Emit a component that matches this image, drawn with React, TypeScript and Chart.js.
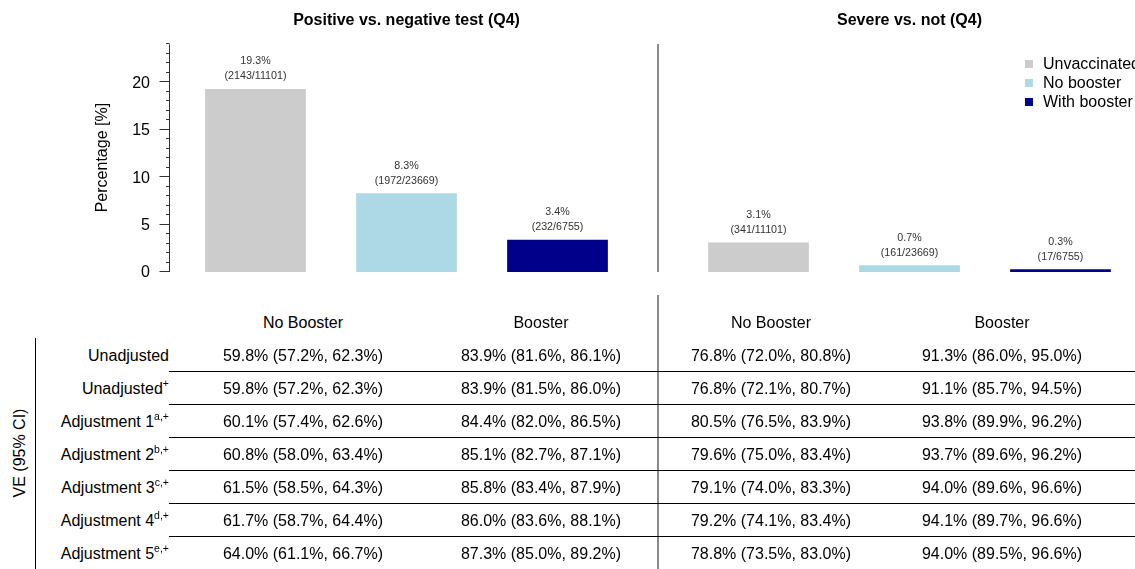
import React, { useEffect, useRef } from "react";
import { Chart, registerables } from "chart.js";

Chart.register(...registerables);

const FONT = "'Liberation Sans', Arial, Helvetica, sans-serif";

// ---- Data ----
const groups = ["Unvaccinated", "No booster", "With booster"];
const groupColors = ["#cccccc", "#add8e6", "#00008b"];
const groupTotals = [11101, 23669, 6755];

const testTitle = "Positive vs. negative test (Q4)";
const testPercent = [19.3, 8.3, 3.4];
const testCases = [2143, 1972, 232];

const severeTitle = "Severe vs. not (Q4)";
const severePercent = [3.1, 0.7, 0.3];
const severeCases = [341, 161, 17];

const yAxisTitle = "Percentage [%]";
const yMajorTicks = [0, 5, 10, 15, 20];
const yMinorTicks = [0, 1, 2, 3, 4, 5, 6, 7, 8, 9, 10, 11, 12, 13, 14, 15, 16, 17, 18, 19, 20, 21, 22, 23, 24];
const yMax = 24.125;

const tableHeaders = ["No Booster", "Booster", "No Booster", "Booster"];
const rowLabels = ["Unadjusted", "Unadjusted", "Adjustment 1", "Adjustment 2", "Adjustment 3", "Adjustment 4", "Adjustment 5"];
const rowSuperscripts = ["", "+", "a,+", "b,+", "c,+", "d,+", "e,+"];
const veTestNoBooster = [
  "59.8% (57.2%, 62.3%)", "59.8% (57.2%, 62.3%)", "60.1% (57.4%, 62.6%)", "60.8% (58.0%, 63.4%)",
  "61.5% (58.5%, 64.3%)", "61.7% (58.7%, 64.4%)", "64.0% (61.1%, 66.7%)",
];
const veTestBooster = [
  "83.9% (81.6%, 86.1%)", "83.9% (81.5%, 86.0%)", "84.4% (82.0%, 86.5%)", "85.1% (82.7%, 87.1%)",
  "85.8% (83.4%, 87.9%)", "86.0% (83.6%, 88.1%)", "87.3% (85.0%, 89.2%)",
];
const veSevereNoBooster = [
  "76.8% (72.0%, 80.8%)", "76.8% (72.1%, 80.7%)", "80.5% (76.5%, 83.9%)", "79.6% (75.0%, 83.4%)",
  "79.1% (74.0%, 83.3%)", "79.2% (74.1%, 83.4%)", "78.8% (73.5%, 83.0%)",
];
const veSevereBooster = [
  "91.3% (86.0%, 95.0%)", "91.1% (85.7%, 94.5%)", "93.8% (89.9%, 96.2%)", "93.7% (89.6%, 96.2%)",
  "94.0% (89.6%, 96.6%)", "94.1% (89.7%, 96.6%)", "94.0% (89.5%, 96.6%)",
];
const veAxisLabel = "VE (95% CI)";

// ---- Layout constants ----
const colCenters = [303, 541, 771, 1002];
const rowTop0 = 339;
const rowH = 33;

type PanelProps = {
  title: string;
  values: number[];
  cases: number[];
  withAxis: boolean;
  withLegend: boolean;
  left: number;
  width: number;
  padLeft: number;
  padRight: number;
};

function BarPanel(p: PanelProps) {
  const ref = useRef<HTMLCanvasElement>(null);
  useEffect(() => {
    const labelsPlugin = {
      id: "barLabels",
      afterDatasetsDraw(chart: any) {
        const ctx = chart.ctx;
        const meta = chart.getDatasetMeta(0);
        ctx.save();
        ctx.font = `10.7px ${FONT}`;
        ctx.fillStyle = "#333";
        ctx.textAlign = "center";
        ctx.textBaseline = "middle";
        meta.data.forEach((bar: any, i: number) => {
          ctx.fillText(`${p.values[i].toFixed(1)}%`, bar.x, bar.y - 27.5);
          ctx.fillText(`(${p.cases[i]}/${groupTotals[i]})`, bar.x, bar.y - 12.5);
        });
        ctx.restore();
      },
    };
    const axisPlugin = {
      id: "baseAxis",
      afterDraw(chart: any) {
        if (!p.withAxis) return;
        const ctx = chart.ctx;
        const y = chart.scales.y;
        const ax = chart.chartArea.left - 10.5;
        ctx.save();
        ctx.strokeStyle = "#333";
        ctx.lineWidth = 1;
        ctx.beginPath();
        ctx.moveTo(ax, y.getPixelForValue(yMinorTicks[0]));
        ctx.lineTo(ax, y.getPixelForValue(yMinorTicks[yMinorTicks.length - 1]));
        yMinorTicks.forEach((v) => {
          const py = Math.round(y.getPixelForValue(v)) - 0.5;
          ctx.moveTo(ax, py);
          ctx.lineTo(ax - 3.5, py);
        });
        yMajorTicks.forEach((v) => {
          const py = Math.round(y.getPixelForValue(v)) - 0.5;
          ctx.moveTo(ax, py);
          ctx.lineTo(ax - 10, py);
        });
        ctx.stroke();
        ctx.fillStyle = "#000";
        ctx.font = `16px ${FONT}`;
        ctx.textAlign = "right";
        ctx.textBaseline = "middle";
        yMajorTicks.forEach((v) => ctx.fillText(String(v), ax - 19.5, y.getPixelForValue(v) + 1));
        ctx.translate(103, (chart.chartArea.top + chart.chartArea.bottom) / 2);
        ctx.rotate(-Math.PI / 2);
        ctx.textAlign = "center";
        ctx.fillText(yAxisTitle, 0, 0);
        ctx.restore();
      },
    };
    const legendPlugin = {
      id: "cornerLegend",
      afterDraw(chart: any) {
        if (!p.withLegend) return;
        const ctx = chart.ctx;
        ctx.save();
        ctx.font = `16px ${FONT}`;
        ctx.textAlign = "left";
        ctx.textBaseline = "middle";
        groups.forEach((g, i) => {
          const cy = 64 + 19 * i;
          ctx.fillStyle = groupColors[i];
          ctx.fillRect(367, cy - 4, 8, 8);
          ctx.fillStyle = "#000";
          ctx.fillText(g, 385, cy + 1);
        });
        ctx.restore();
      },
    };
    const chart = new Chart(ref.current!, {
      type: "bar",
      data: {
        labels: groups,
        datasets: [
          {
            data: p.values,
            backgroundColor: groupColors,
            borderWidth: 0,
            barPercentage: 0.667,
            categoryPercentage: 1,
          },
        ],
      },
      options: {
        animation: false,
        responsive: false,
        maintainAspectRatio: false,
        layout: { padding: { left: p.padLeft, right: p.padRight, top: 0, bottom: 18 } },
        scales: {
          x: { display: false, offset: true },
          y: { display: false, min: 0, max: yMax },
        },
        plugins: {
          legend: { display: false },
          tooltip: { enabled: false },
          title: {
            display: true,
            text: p.title,
            fullSize: false,
            color: "#000",
            font: { family: FONT, size: 16, weight: "bold" },
            padding: { top: 11, bottom: 13 },
          },
        },
      } as any,
      plugins: [labelsPlugin, axisPlugin, legendPlugin],
    });
    return () => chart.destroy();
  }, []);
  return (
    <canvas
      ref={ref}
      width={p.width}
      height={290}
      style={{ position: "absolute", left: p.left, top: 0, width: p.width, height: 290, display: "block" }}
    />
  );
}

export default function App() {
  const columns = [veTestNoBooster, veTestBooster, veSevereNoBooster, veSevereBooster];
  return (
    <div
      style={{
        position: "fixed",
        left: 0,
        top: 0,
        width: 1135,
        height: 569,
        overflow: "hidden",
        background: "#fff",
        fontFamily: FONT,
        color: "#000",
      }}
    >
      <BarPanel title={testTitle} values={testPercent} cases={testCases} withAxis={true} withLegend={false}
        left={0} width={658} padLeft={180} padRight={25} />
      <BarPanel title={severeTitle} values={severePercent} cases={severeCases} withAxis={false} withLegend={true}
        left={658} width={480} padLeft={25} padRight={2} />

      {/* panel dividers */}
      <div style={{ position: "absolute", left: 657, top: 44, width: 2, height: 228, background: "#8c8c8c" }} />
      <div style={{ position: "absolute", left: 657, top: 295, width: 2, height: 274, background: "#8c8c8c" }} />

      {/* table headers */}
      {tableHeaders.map((h, i) => (
        <div key={"h" + i} style={{ position: "absolute", left: colCenters[i] - 120, width: 240, top: 306, height: 33,
          lineHeight: "33px", fontSize: 16, textAlign: "center", whiteSpace: "nowrap" }}>{h}</div>
      ))}

      {/* left rule & side label */}
      <div style={{ position: "absolute", left: 35, top: 338, width: 1, height: 231, background: "#000" }} />
      <div style={{ position: "absolute", left: 20, top: 453, fontSize: 16, whiteSpace: "nowrap",
        transform: "translate(-50%, -50%) rotate(-90deg)" }}>{veAxisLabel}</div>

      {rowLabels.map((lab, r) => (
        <React.Fragment key={"r" + r}>
          <div style={{ position: "absolute", left: 0, width: 169, top: rowTop0 + r * rowH, height: rowH,
            lineHeight: rowH + "px", fontSize: 16, textAlign: "right", whiteSpace: "nowrap" }}>
            {lab}
            {rowSuperscripts[r] ? (
              <span style={{ fontSize: 10.5, position: "relative", top: -7 }}>{rowSuperscripts[r]}</span>
            ) : null}
          </div>
          {columns.map((col, c) => (
            <div key={"c" + c} style={{ position: "absolute", left: colCenters[c] - 120, width: 240,
              top: rowTop0 + r * rowH, height: rowH, lineHeight: rowH + "px", fontSize: 16,
              textAlign: "center", whiteSpace: "nowrap" }}>{col[r]}</div>
          ))}
          <div style={{ position: "absolute", left: 169, width: 966, top: 371 + r * rowH, height: 1,
            background: r === rowLabels.length - 1 ? "#c8c8c8" : "#000" }} />
        </React.Fragment>
      ))}
    </div>
  );
}
